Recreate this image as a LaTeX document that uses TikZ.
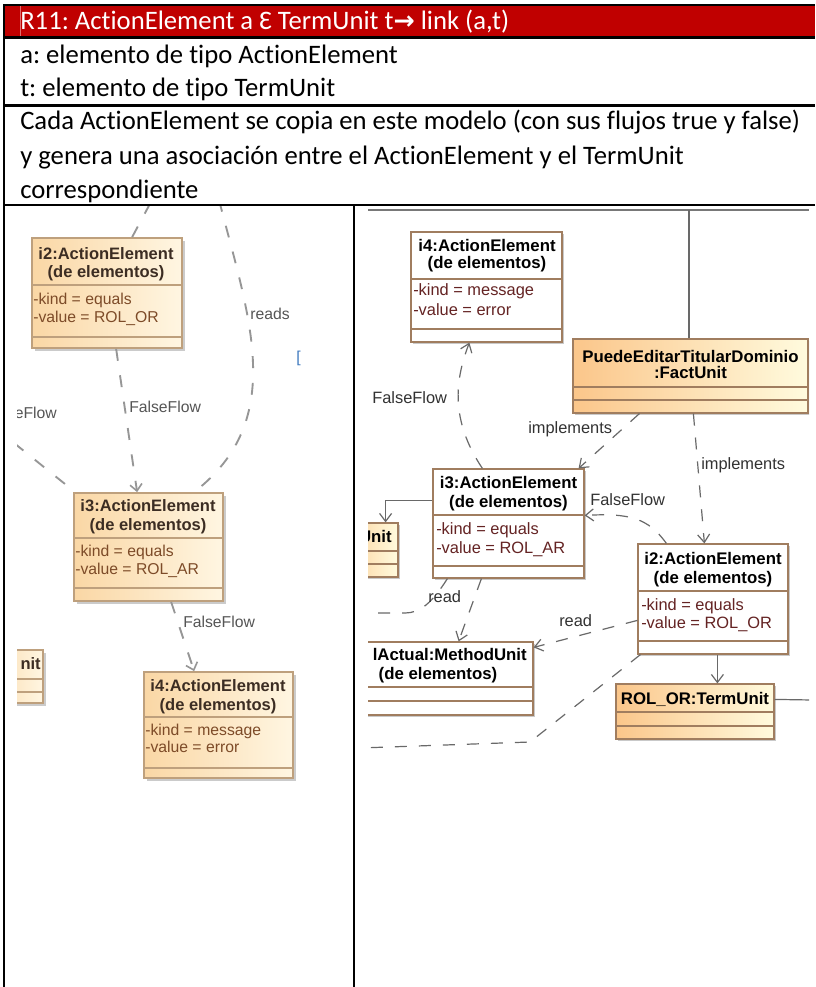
\documentclass[tikz,border=0pt]{standalone}
\usepackage{fontspec}
\setmainfont{Carlito}[Ligatures=NoCommon]
\newfontfamily\umlfont{Liberation Sans}
\newfontfamily\symfont{DejaVu Sans}
\usetikzlibrary{arrows.meta,calc,fit,shadows}

\definecolor{hdrred}{RGB}{192,0,0}
\definecolor{hdrmark}{RGB}{225,110,110}
\definecolor{umlborder}{RGB}{160,125,95}
\definecolor{umlattr}{RGB}{100,35,35}
\definecolor{umlline}{RGB}{105,105,105}
\definecolor{umllabel}{RGB}{50,50,50}
\definecolor{fillL}{RGB}{251,198,138}
\definecolor{fillR}{RGB}{255,251,222}
\definecolor{frameline}{RGB}{120,120,120}
% colours of the blurred left-hand diagram
\definecolor{softborder}{RGB}{190,160,125}
\definecolor{softfillL}{RGB}{250,215,165}
\definecolor{softfillR}{RGB}{255,246,226}
\definecolor{softtitle}{RGB}{60,45,35}
\definecolor{softattr}{RGB}{125,75,40}
\definecolor{softline}{RGB}{150,150,150}
\definecolor{softlabel}{RGB}{85,85,85}
\definecolor{bracket}{RGB}{60,120,190}

\tikzset{
  docline/.style={line width=1.6pt, black},
  doctext/.style={inner sep=0pt, anchor=base west, font=\fontsize{20pt}{24pt}\selectfont},
  % class boxes of the sharp diagram
  plainbox/.style={draw=umlborder, line width=0.9pt, inner sep=0pt, fill=white,
    drop shadow={shadow xshift=1.6pt, shadow yshift=-1.6pt, fill=black!35, opacity=0.6}},
  warmbox/.style={plainbox, left color=fillL, right color=fillR},
  boxsep/.style={draw=umlborder, line width=0.9pt},
  utitle/.style={inner sep=0pt, anchor=base, font=\umlfont\bfseries\fontsize{12.6pt}{14pt}\selectfont},
  uattr/.style={inner sep=0pt, anchor=base west, text=umlattr, font=\umlfont\fontsize{12.3pt}{14pt}\selectfont},
  ulabel/.style={inner sep=0pt, anchor=base west, text=umllabel, font=\umlfont\fontsize{12.3pt}{14pt}\selectfont},
  dconn/.style={draw=umlline, line width=0.9pt, dash pattern=on 9pt off 9pt},
  sconn/.style={draw=umlline, line width=0.9pt},
  vtip/.style={-{Straight Barb[length=6pt,width=9pt,line width=0.9pt]}},
  % class boxes of the blurred diagram
  softbox/.style={draw=softborder, line width=1.3pt, inner sep=0pt,
    left color=softfillL, right color=softfillR,
    drop shadow={shadow xshift=2pt, shadow yshift=-2pt, fill=black!40, opacity=0.5}},
  softsep/.style={draw=softborder, line width=1.1pt},
  stitle/.style={inner sep=0pt, anchor=base, text=softtitle, font=\umlfont\bfseries\fontsize{12.4pt}{14pt}\selectfont},
  sattr/.style={inner sep=0pt, anchor=base west, text=softattr, font=\umlfont\fontsize{11.8pt}{14pt}\selectfont},
  slabel/.style={inner sep=0pt, anchor=base west, text=softlabel, font=\umlfont\fontsize{11.8pt}{14pt}\selectfont},
  sdconn/.style={draw=softline, line width=1.4pt, dash pattern=on 9pt off 11pt},
  stip/.style={-{Straight Barb[length=5pt,width=9pt,line width=1.2pt]}},
}

% #1 name, (#2,#3)-(#4,#5) corners, #6 #7 compartment rules, #8 box style, #9 rule style
\newcommand{\classrect}[9]{%
  \coordinate (#1-a) at (#2,#3);
  \coordinate (#1-b) at (#4,#5);
  \node[fit=(#1-a)(#1-b), #8] (#1) {};
  \draw[#9] (#2,#6) -- (#4,#6);
  \draw[#9] (#2,#7) -- (#4,#7);
}

\begin{document}
\frenchspacing
\begin{tikzpicture}[x=0.75pt,y=-0.75pt]
\useasboundingbox (0,0) rectangle (815,987);
\fill[white] (0,0) rectangle (815,987);

% ---------- table ----------
\fill[hdrred] (4,5) rectangle (815,37);
\draw[hdrmark, line width=0.6pt] (20,6) -- (20,36);
\draw[docline] (3.3,5) -- (815,5);
\draw[docline] (4.3,5) -- (4.3,987);
\draw[docline] (4,37.5) -- (815,37.5);
\draw[docline] (4,105.5) -- (815,105.5);
\draw[docline] (4,205.3) -- (815,205.3);
\draw[docline] (354,205) -- (354,987);

\node[doctext, text=white] (hdr) at (20,30)
  {R11: ActionElement a Ɛ TermUnit t{\symfont\bfseries\fontsize{19pt}{20pt}\selectfont →} link (a,t)};
\node[doctext] (vara) at (20,64) {a: elemento de tipo ActionElement};
\node[doctext] (vart) at (20,97) {t: elemento de tipo TermUnit};
\node[doctext] (desc1) at (20,130) {Cada ActionElement se copia en este modelo (con sus flujos true y false)};
\node[doctext] (desc2) at (20,164.5) {y genera una asociación entre el ActionElement y el TermUnit};
\node[doctext] (desc3) at (20,199) {correspondiente};

% ---------- left diagram ----------
\begin{scope}
\clip (17,207) rectangle (345,800);
\classrect{i2l}{32}{238}{182}{348}{285}{337}{softbox}{softsep}
\node[stitle] (i2l-t1) at (106,260) {i2:ActionElement};
\node[stitle] (i2l-t2) at (106,277) {(de elementos)};
\node[sattr] (i2l-a1) at (33,304) {-kind = equals};
\node[sattr] (i2l-a2) at (33,322) {-value = ROL\_OR};

\classrect{i3l}{74}{493}{223}{601}{538}{588}{softbox}{softsep}
\node[stitle] (i3l-t1) at (148,511) {i3:ActionElement};
\node[stitle] (i3l-t2) at (148,530) {(de elementos)};
\node[sattr] (i3l-a1) at (75,556) {-kind = equals};
\node[sattr] (i3l-a2) at (75,574) {-value = ROL\_AR};

\classrect{i4l}{144}{672}{293}{778}{717}{768}{softbox}{softsep}
\node[stitle] (i4l-t1) at (218,691) {i4:ActionElement};
\node[stitle] (i4l-t2) at (218,710) {(de elementos)};
\node[sattr] (i4l-a1) at (145,735) {-kind = message};
\node[sattr] (i4l-a2) at (145,752) {-value = error};

\classrect{unitl}{-20}{650}{43}{703}{679}{692}{softbox}{softsep}
\node[stitle, anchor=base east] (unitl-t) at (41,669) {nit};

\coordinate (l1top) at (152,200);
\coordinate (l2top) at (219,200);
\coordinate (l4left) at (14,443);
\draw[sdconn] ($(i2l.north west)+(101,0)$) -- (l1top);
\draw[sdconn] (l2top) .. controls (250,320) and (287,420) .. ($(i3l.north west)+(121,0)$);
\draw[sdconn, stip] ($(i2l.south west)+(85,0)$) -- ($(i3l.north west)+(64,0)$);
\draw[sdconn] (l4left) -- ($(i3l.north west)+(2,0)$);
\draw[sdconn, stip] ($(i3l.south west)+(98,0)$) -- ($(i4l.north west)+(51,0)$);

\node[slabel] (lbl-reads) at (250,319) {reads};
\node[slabel] (lbl-ff1) at (129,412) {FalseFlow};
\node[slabel, anchor=base east] (lbl-ff0) at (57,418) {eFlow};
\node[slabel] (lbl-ff2) at (183,627) {FalseFlow};
\node[inner sep=0pt, anchor=base west, text=bracket, font=\umlfont\fontsize{11.8pt}{14pt}\selectfont] (brk) at (296,362) {[};
\end{scope}

% ---------- right diagram ----------
\begin{scope}
\clip (368,207) rectangle (809,987);
\draw[frameline, line width=1.5pt] (368,210.5) -- (809,210.5);

\classrect{i4r}{411}{232}{562}{342}{279}{329}{plainbox}{boxsep}
\node[utitle] (i4r-t1) at (487,252) {i4:ActionElement};
\node[utitle] (i4r-t2) at (487,269) {(de elementos)};
\node[uattr] (i4r-a1) at (413,296) {-kind = message};
\node[uattr] (i4r-a2) at (413,315) {-value = error};

\classrect{fact}{573}{339}{808}{413}{387}{400}{warmbox}{boxsep}
\node[utitle] (fact-t1) at (690.5,362) {PuedeEditarTitularDominio};
\node[utitle] (fact-t2) at (690.5,378) {:FactUnit};

\classrect{i3r}{433}{469}{584}{578}{515}{566}{plainbox}{boxsep}
\node[utitle] (i3r-t1) at (508.5,488) {i3:ActionElement};
\node[utitle] (i3r-t2) at (508.5,507) {(de elementos)};
\node[uattr] (i3r-a1) at (436,534) {-kind = equals};
\node[uattr] (i3r-a2) at (436,553) {-value = ROL\_AR};

\classrect{unitr}{330}{523}{398}{577}{551}{564}{warmbox}{boxsep}
\node[utitle, anchor=base east] (unitr-t) at (392,542) {Unit};

\classrect{i2r}{638}{544}{788}{654}{591}{641}{plainbox}{boxsep}
\node[utitle] (i2r-t1) at (713,564) {i2:ActionElement};
\node[utitle] (i2r-t2) at (713,583) {(de elementos)};
\node[uattr] (i2r-a1) at (641,610) {-kind = equals};
\node[uattr] (i2r-a2) at (641,628) {-value = ROL\_OR};

\classrect{meth}{343}{642}{533}{715}{687}{701}{plainbox}{boxsep}
\node[utitle, anchor=base east] (meth-t1) at (527,660) {lActual:MethodUnit};
\node[utitle] (meth-t2) at (438,679) {(de elementos)};

\classrect{term}{616}{684}{774}{739}{712}{726}{warmbox}{boxsep}
\node[utitle] (term-t) at (695,704) {ROL\_OR:TermUnit};

% connectors
\coordinate (topf) at (689,210);
\draw[sconn] (topf) -- (topf |- fact.north);
\draw[dconn, vtip] ($(i3r.north west)+(50,0)$) .. controls (450,420) and (455,380) .. ($(i4r.south west)+(59,0)$);
\draw[dconn, vtip] ($(fact.south west)+(67,0)$) -- ($(i3r.north east)+(-6,0)$);
\draw[dconn, vtip] ($(fact.south west)+(121,0)$) -- ($(i2r.north west)+(67,0)$);
\draw[dconn, vtip] ($(i2r.north west)+(29,0)$) .. controls (648,518) and (630,513) .. ($(i3r.north east)+(0,47)$);
\draw[dconn, vtip] ($(i2r.north west)+(0,77)$) -- ($(meth.north east)+(0,6)$);
\draw[dconn, vtip] ($(i3r.south west)+(49,0)$) -- ($(meth.north east)+(-75,0)$);
\coordinate (r8end) at (360,613);
\draw[dconn] ($(i3r.south west)+(15,0)$) .. controls (432,603) and (420,613) .. (405,613) -- (r8end);
\coordinate (r9end) at (360,748);
\draw[dconn] ($(i2r.south west)+(3,0)$) -- (530,742) -- (r9end);
\draw[sconn, vtip] ($(i3r.north west)+(0,32)$) -| ($(unitr.north east)+(-13,0)$);
\coordinate (i2r-b) at ($(i2r.south west)+(80,0)$);
\draw[sconn, vtip] (i2r-b) -- (i2r-b |- term.north);
\coordinate (termout) at (812,700);
\draw[sconn] ($(term.north east)+(0,16)$) -- (termout);

\node[ulabel] (lbl-ffa) at (372,403) {FalseFlow};
\node[ulabel] (lbl-impa) at (528,433) {implements};
\node[ulabel] (lbl-impb) at (701,469) {implements};
\node[ulabel] (lbl-ffb) at (590,505) {FalseFlow};
\node[ulabel] (lbl-rda) at (428,602) {read};
\node[ulabel] (lbl-rdb) at (559,626) {read};
\end{scope}
\end{tikzpicture}
\end{document}
